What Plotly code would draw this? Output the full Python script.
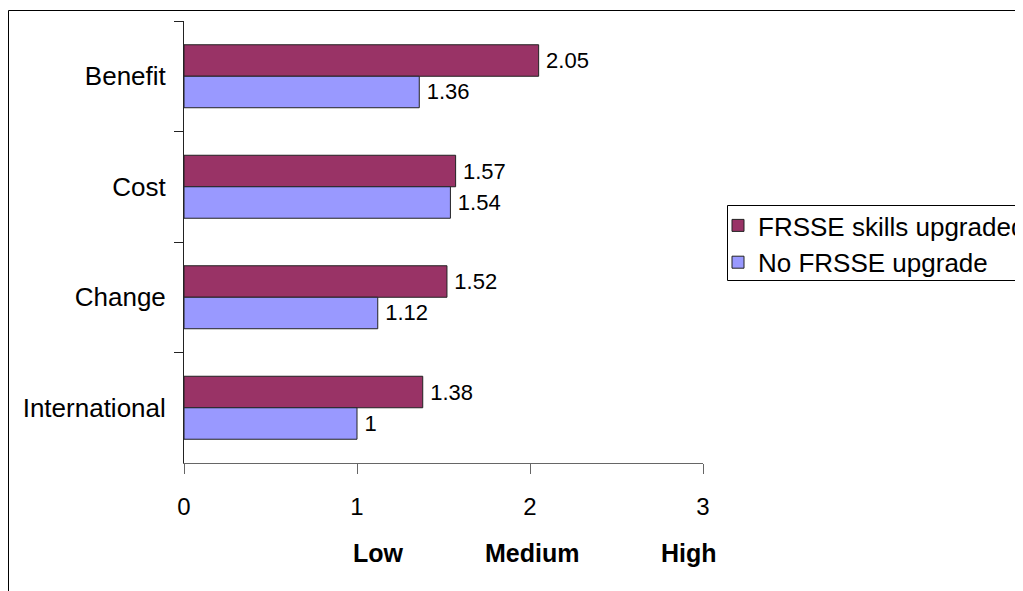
import plotly.graph_objects as go

categories = ["Benefit", "Cost", "Change", "International"]
upgraded = [2.05, 1.57, 1.52, 1.38]
no_upgrade = [1.36, 1.54, 1.12, 1.0]
series_names = ["FRSSE skills upgraded", "No FRSSE upgrade"]
x_ticks = [0, 1, 2, 3]
level_labels = ["Low", "Medium", "High"]

FONT = "Liberation Sans, Arial, sans-serif"

def fmt(v):
    return "\u2009" + f"{v:g}"

fig = go.Figure()
fig.add_trace(go.Bar(
    y=categories, x=upgraded, orientation="h", name=series_names[0],
    marker=dict(color="#993366", line=dict(color="#222222", width=1)),
    text=[fmt(v) for v in upgraded], textposition="outside",
    textfont=dict(size=22, color="black", family=FONT), cliponaxis=False,
))
fig.add_trace(go.Bar(
    y=categories, x=no_upgrade, orientation="h", name=series_names[1],
    marker=dict(color="#9999FF", line=dict(color="#222222", width=1)),
    text=[fmt(v) for v in no_upgrade], textposition="outside",
    textfont=dict(size=22, color="black", family=FONT), cliponaxis=False,
))

# page has an 8px body margin; figure pixel = page pixel - 8
OFF = 8
W, H = 1023 - OFF, 591 - OFF
L = 184 - OFF
T = 21 - OFF
pw, ph = 519, 442
R = W - L - pw
B = H - T - ph

def px_x(p):
    return (p - OFF - L) / pw

def px_y(p):
    return (T + ph - (p - OFF)) / ph

annotations = []
for lab, xp in zip(level_labels, [378, 532, 689]):
    annotations.append(dict(
        text=f"<b>{lab}</b>", xref="paper", yref="paper",
        x=px_x(xp), y=px_y(553), xanchor="center", yanchor="middle",
        showarrow=False, font=dict(size=25, color="black", family=FONT),
    ))

shapes = [
    # outer chart border
    dict(type="rect", xref="paper", yref="paper",
         x0=px_x(8.5), x1=px_x(1100), y0=px_y(700), y1=px_y(10.5),
         line=dict(color="black", width=1), fillcolor="rgba(0,0,0,0)",
         layer="above"),
    # legend frame
    dict(type="rect", xref="paper", yref="paper",
         x0=px_x(727.5), x1=px_x(1100), y0=px_y(280.5), y1=px_y(205.5),
         line=dict(color="black", width=1), fillcolor="white",
         layer="above"),
]

fig.update_layout(
    width=W, height=H,
    margin=dict(l=L, r=R, t=T, b=B, autoexpand=False),
    paper_bgcolor="white", plot_bgcolor="white",
    font=dict(family=FONT, color="black"),
    barmode="group", bargap=0.43, bargroupgap=0,
    showlegend=True,
    legend=dict(
        x=px_x(718), y=px_y(202), xanchor="left", yanchor="top",
        bgcolor="rgba(0,0,0,0)", borderwidth=0,
        font=dict(size=26, family=FONT, color="black"),
        itemwidth=30, traceorder="normal",
    ),
    xaxis=dict(
        range=[0, 3], tickvals=x_ticks, ticktext=[str(t) for t in x_ticks],
        showgrid=False, zeroline=False, showline=True, linecolor="#666666",
        linewidth=1, ticks="outside", ticklen=10, tickcolor="#666666",
        tickfont=dict(size=24, family=FONT, color="black"),
        ticklabelstandoff=12, fixedrange=True,
    ),
    yaxis=dict(
        categoryorder="array", categoryarray=categories, autorange="reversed",
        showgrid=False, zeroline=False, showline=True, linecolor="#222222",
        linewidth=1, ticks="outside", ticklen=9, tickcolor="#222222",
        tickson="boundaries",
        tickfont=dict(size=26, family=FONT, color="black"),
        ticklabelstandoff=12, fixedrange=True,
    ),
    annotations=annotations,
    shapes=shapes,
)

fig.write_html("out.html")
